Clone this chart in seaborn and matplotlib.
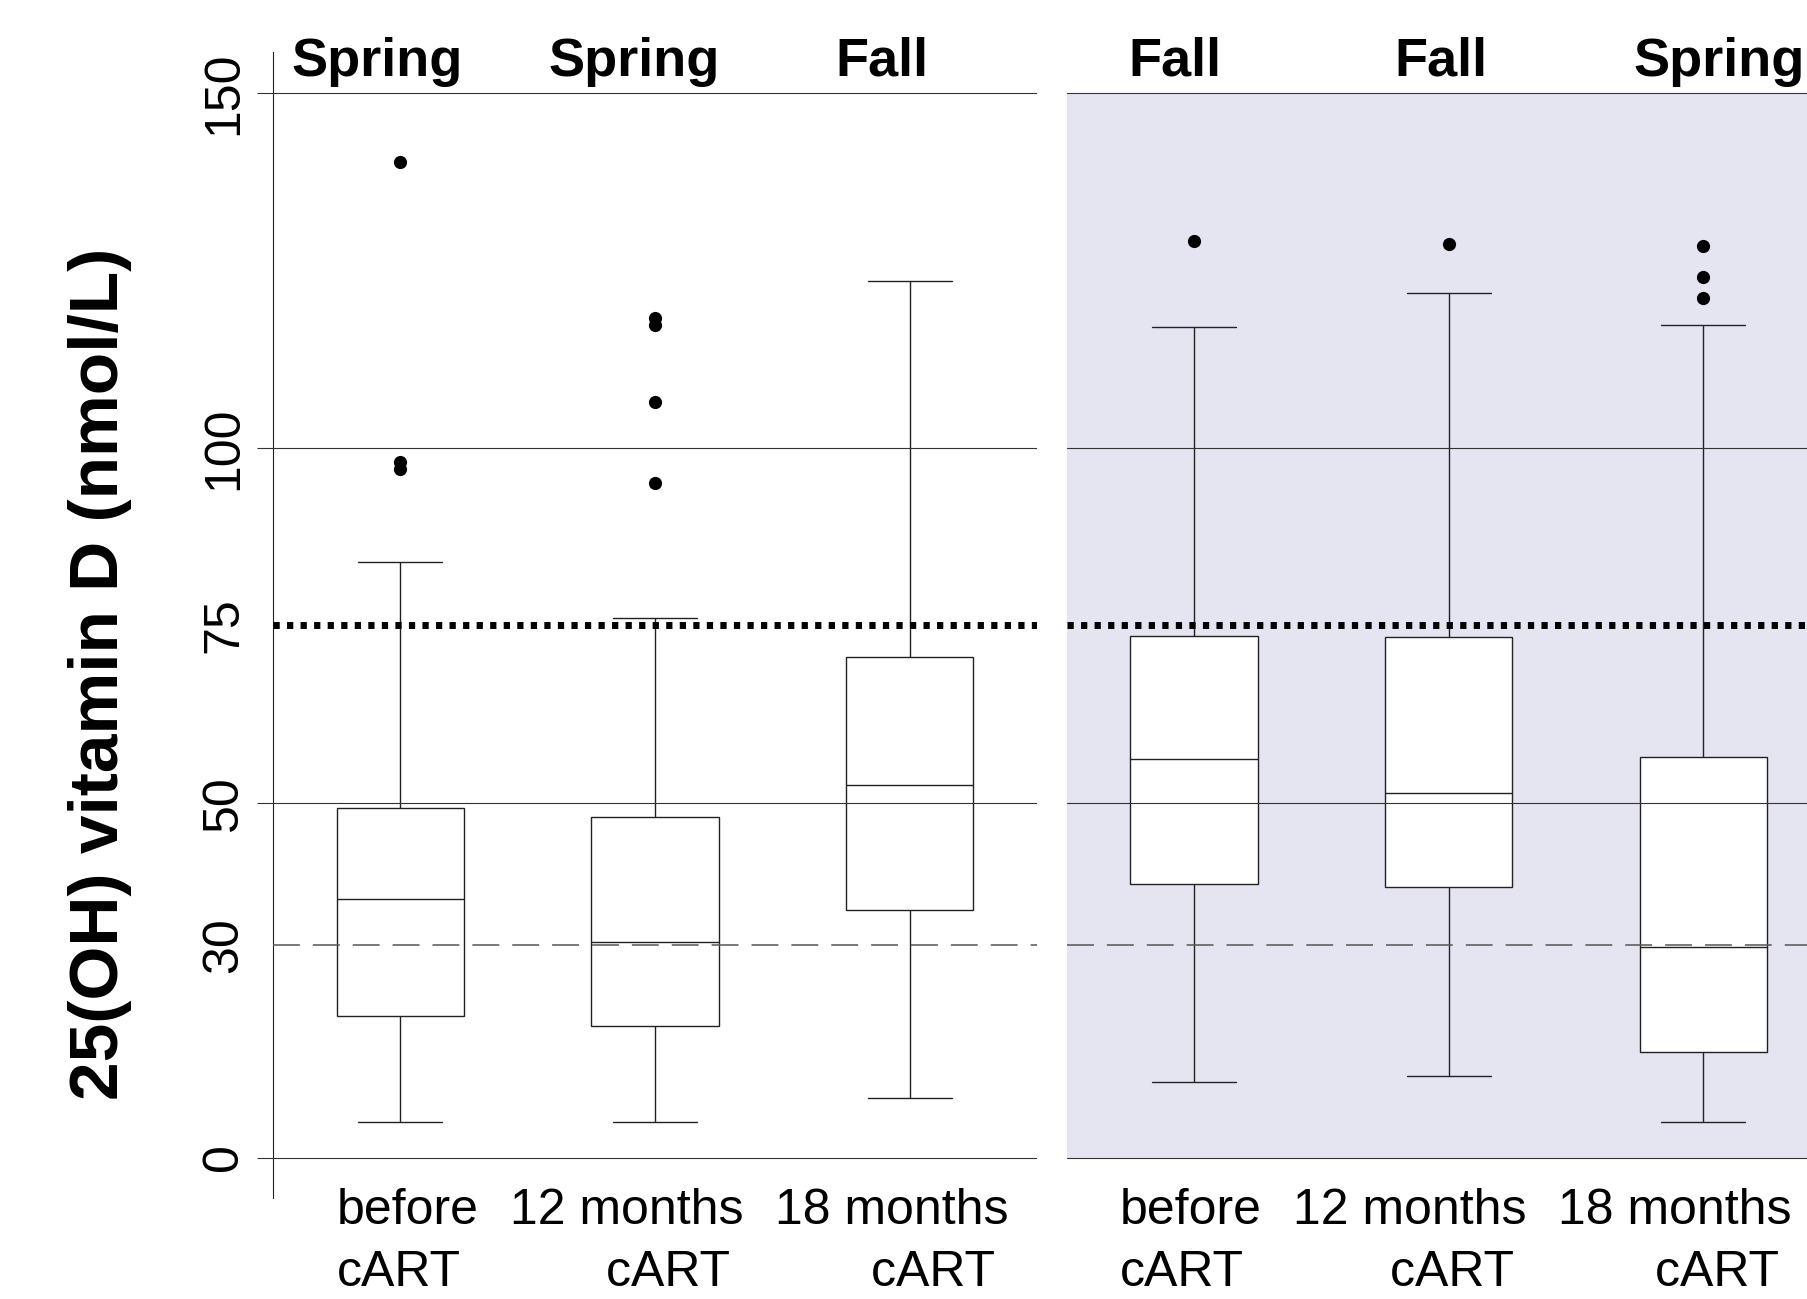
import matplotlib
matplotlib.use("Agg")
import matplotlib.pyplot as plt
import seaborn as sns
import pandas as pd
import numpy as np

# time points (categories) and their display labels
times = ["before", "12 months", "18 months"]
time_labels = ["before\ncART", "12 months\ncART ", "18 months\ncART "]
time_align = ["left", "right", "right"]

# panel 1 (white background)
left_seasons = ["Spring", "Spring", "Fall"]
left_low = [5.0, 5.0, 8.4]
left_q1 = [20.0, 18.5, 34.9]
left_med = [36.4, 30.4, 52.5]
left_q3 = [49.2, 48.0, 70.5]
left_high = [83.9, 76.0, 123.6]
left_outliers = [[140.3, 98.0, 97.0], [118.3, 117.3, 106.5, 95.1], []]

# panel 2 (shaded background)
right_seasons = ["Fall", "Fall", "Spring"]
right_low = [10.6, 11.5, 5.0]
right_q1 = [38.5, 38.2, 14.9]
right_med = [56.2, 51.4, 29.7]
right_q3 = [73.5, 73.4, 56.4]
right_high = [117.0, 121.8, 117.3]
right_outliers = [[129.2], [128.8], [128.5, 124.1, 121.1]]

# reference levels
grid_levels = [0, 50, 100, 150]
insufficiency = 30
sufficiency = 75

LINE = "#222222"
GRID = "#333333"
SHADE = "#e5e5f2"

sns.set_style("white")
plt.rcParams["font.family"] = ["Liberation Sans", "DejaVu Sans"]
plt.rcParams["text.color"] = "black"
plt.rcParams["ytick.color"] = "black"
plt.rcParams["xtick.color"] = "black"

fig = plt.figure(figsize=(18.08, 12.99), dpi=100)
ax1 = fig.add_axes([0.151, 0.0778, 0.4226, 0.882])
ax2 = fig.add_axes([0.590, 0.0778, 0.4226, 0.882])


def draw_panel(ax, low, q1, med, q3, high, outliers, seasons, title_off, label_off):
    summary = np.column_stack([low, q1, med, q3, high]).ravel()
    df = pd.DataFrame({"time": np.repeat(times, 5), "value": summary})
    out_df = pd.DataFrame(
        [(t, v) for t, vals in zip(times, outliers) for v in vals],
        columns=["time", "value"],
    )

    sns.boxplot(data=df, x="time", y="value", order=times, ax=ax,
                width=0.5, whis=(0, 100), showfliers=False,
                color="white", saturation=1, linecolor=LINE,
                linewidth=1.0, capwidths=0.33)
    sns.stripplot(data=out_df, x="time", y="value", order=times, ax=ax,
                  jitter=False, color="black", size=9.5, zorder=6)

    ax.set_xlim(-0.5, 2.5)
    ax.set_ylim(-5.7, 155.8)
    ax.set_xlabel("")
    ax.set_ylabel("")
    ax.tick_params(axis="x", bottom=False, labelbottom=False)

    for v in grid_levels:
        ax.axhline(v, color=GRID, lw=0.8, zorder=5)
    ax.axhline(insufficiency, color="#555555", lw=1.1, ls=(0, (17.6, 8.5)), zorder=5)
    ax.axhline(sufficiency, color="black", lw=5.0, ls=(0, (0.9, 1.05)), zorder=6)

    for i, s in enumerate(seasons):
        ax.text(i + title_off[i], 152.5, s, ha="center", va="baseline",
                fontsize=39, fontweight="bold", clip_on=False)
    for i, lab in enumerate(time_labels):
        ax.text(i + label_off[i], -4.3, lab, ha="left", va="top",
                multialignment=time_align[i], fontsize=36,
                linespacing=1.45, clip_on=False)


draw_panel(ax1, left_low, left_q1, left_med, left_q3, left_high, left_outliers,
           left_seasons, [-0.09, -0.08, -0.11], [-0.25, -0.57, -0.53])
draw_panel(ax2, right_low, right_q1, right_med, right_q3, right_high, right_outliers,
           right_seasons, [-0.075, -0.03, 0.06], [-0.29, -0.61, -0.57])

# left panel: y axis with rotated tick labels
sns.despine(ax=ax1, bottom=True)
ax1.spines["left"].set_color(LINE)
ax1.spines["left"].set_linewidth(0.8)
ax1.set_yticks(grid_levels)
ax1.set_yticklabels([str(v) for v in grid_levels])
ax1.set_yticks([insufficiency, sufficiency], minor=True)
ax1.set_yticklabels([str(insufficiency), str(sufficiency)], minor=True)
ax1.tick_params(axis="y", which="major", left=True, length=11.5, width=0.8,
                color=GRID, labelcolor="black", pad=7, labelsize=36,
                labelrotation=90)
ax1.tick_params(axis="y", which="minor", left=True, length=0, pad=18.5,
                labelcolor="black", labelsize=36, labelrotation=90)
for lab in ax1.get_yticklabels(which="both"):
    lab.set_va("center")

# right panel: shaded, no axes
ax2.set_facecolor("none")
ax2.axhspan(0, 150, color=SHADE, zorder=0, lw=0)
for sp in ax2.spines.values():
    sp.set_visible(False)
ax2.tick_params(axis="y", left=False, labelleft=False)

fig.text(100 / 1808, 1 - 674 / 1299, "25(OH) vitamin D (nmol/L)", rotation=90,
         ha="center", va="center", fontsize=50, fontweight="bold")

fig.savefig("out.png", dpi=100)
